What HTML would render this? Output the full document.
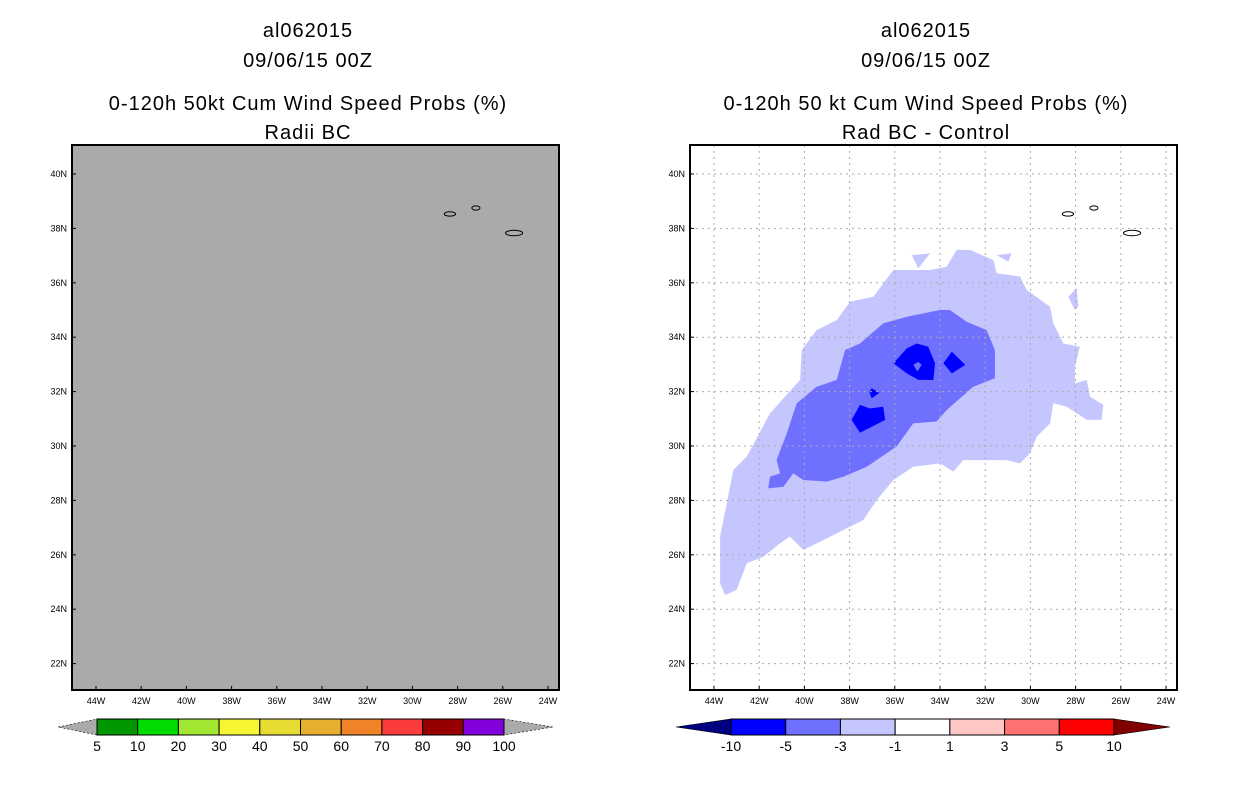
<!DOCTYPE html>
<html><head><meta charset="utf-8">
<style>
html,body{margin:0;padding:0;background:#fff;}
svg{display:block;font-family:"Liberation Sans",sans-serif;}
</style></head>
<body>
<svg id="c" width="1236" height="800" viewBox="0 0 1236 800" xmlns="http://www.w3.org/2000/svg"></svg>
<script>
const latTicks=[40,38,36,34,32,30,28,26,24,22];
const lonTicks=[44,42,40,38,36,34,32,30,28,26,24];
const leftBarLabels=["5","10","20","30","40","50","60","70","80","90","100"];
const leftBarColors=["#009600","#00dc00","#a0e632","#f5f532","#e6dc32","#e6af2d","#f08228","#fa3c3c","#960000","#8200dc"];
const rightBarLabels=["-10","-5","-3","-1","1","3","5","10"];
const rightBarColors=["#0000ff","#7070ff","#c6c6ff","#ffffff","#ffc6c6","#ff7070","#ff0000"];
const outerContour=[[-43.51,24.52],[-43.73,24.95],[-43.73,26.67],[-43.14,29.12],[-42.55,29.61],[-41.52,31.20],[-40.19,32.43],[-40.12,33.53],[-39.46,34.26],[-38.57,34.63],[-37.98,35.31],[-36.95,35.49],[-36.06,36.47],[-34.44,36.47],[-33.71,36.59],[-33.26,37.21],[-32.67,37.21],[-31.64,36.84],[-31.49,36.35],[-30.46,36.23],[-30.17,35.74],[-29.13,35.12],[-28.99,34.51],[-28.54,33.77],[-27.81,33.65],[-28.03,32.92],[-28.03,32.30],[-27.51,32.43],[-27.36,31.81],[-26.77,31.51],[-26.85,30.96],[-27.51,30.96],[-28.40,31.45],[-28.99,31.57],[-29.13,30.83],[-29.72,30.34],[-30.02,29.73],[-30.46,29.36],[-31.05,29.48],[-32.97,29.48],[-33.41,29.06],[-34.0,29.36],[-35.18,29.24],[-36.06,28.75],[-36.80,28.01],[-37.39,27.28],[-38.28,26.91],[-39.16,26.54],[-40.05,26.18],[-40.64,26.67],[-41.08,26.42],[-41.82,25.93],[-42.55,25.69],[-43.0,24.71]];
const outerIslands=[[[-35.25,37.02],[-34.44,37.08],[-34.96,36.53]],[[-31.49,37.02],[-30.83,37.08],[-30.98,36.78]],[[-28.32,35.49],[-27.95,35.80],[-27.88,35.12],[-28.03,35.0]]];
const midContour=[[-41.6,28.44],[-41.52,28.87],[-41.08,29.0],[-41.23,29.49],[-40.78,30.47],[-40.34,31.57],[-39.46,32.18],[-38.57,32.43],[-38.2,33.53],[-37.54,33.77],[-36.51,34.51],[-35.47,34.75],[-34.0,35.0],[-33.56,35.0],[-32.82,34.57],[-31.94,34.26],[-31.57,33.53],[-31.57,32.49],[-32.53,32.18],[-33.71,31.32],[-34.15,30.9],[-35.18,30.83],[-35.92,29.98],[-37.24,29.24],[-38.28,28.87],[-39.01,28.69],[-40.05,28.75],[-40.49,29.0],[-40.93,28.5]];
const darkBlobs=[[[-36.06,33.04],[-35.47,33.59],[-35.03,33.77],[-34.52,33.65],[-34.22,33.04],[-34.29,32.43],[-34.96,32.43],[-35.47,32.67]],[[-33.85,33.04],[-33.48,33.47],[-32.88,32.98],[-33.48,32.67]],[[-37.13,31.99],[-37.02,32.12],[-36.68,31.96],[-37.02,31.75]],[[-37.91,30.96],[-37.54,31.51],[-37.1,31.38],[-36.51,31.45],[-36.43,30.96],[-37.54,30.49]]];
const darkHole=[[-35.18,32.98],[-34.96,33.1],[-34.81,32.98],[-35.0,32.74]];
const islands=[[-28.34,38.53,0.25,0.08],[-27.19,38.75,0.18,0.08],[-25.5,37.83,0.38,0.1]];

const NS="http://www.w3.org/2000/svg";
const svg=document.getElementById('c');
function mk(tag,attrs,parent){const e=document.createElementNS(NS,tag);for(const k in attrs)e.setAttribute(k,attrs[k]);(parent||svg).appendChild(e);return e;}
function txt(x,y,s,size,anchor,parent){const t=mk('text',{x:x,y:y,'font-size':size,'text-anchor':anchor||'middle',fill:'#000'},parent);t.textContent=s;return t;}

function panel(x0,name){
  const g=mk('g',{});
  
  
  const X=lon=>x0+24+(lon+44)*22.6;
  const Y=lat=>174+(40-lat)*27.2;
  return {g,X,Y,x0};
}
function pts(arr,P){return arr.map(p=>P.X(p[0]).toFixed(1)+','+P.Y(p[1]).toFixed(1)).join(' ');}

function frame(P,gray){
  const r=mk('rect',{x:P.x0,y:145,width:487,height:545,fill:gray?'#aaaaaa':'#fff'},P.g);
  
  
}
function axes(P,grid){
  latTicks.forEach(l=>{
    const y=P.Y(l);
    if(grid){const gl=mk('line',{x1:P.x0,x2:P.x0+487,y1:y,y2:y,stroke:'#aaa','stroke-dasharray':'2,4'},P.g);
      }
    mk('line',{x1:P.x0,x2:P.x0+4,y1:y,y2:y,stroke:'#000'},P.g);
    const t=txt(P.x0-5,y+3,l+'N',9,'end',P.g);
    
  });
  lonTicks.forEach(l=>{
    const x=P.X(-l);
    if(grid){const gl=mk('line',{x1:x,x2:x,y1:145,y2:690,stroke:'#aaa','stroke-dasharray':'2,4'},P.g);
      }
    mk('line',{x1:x,x2:x,y1:686,y2:690,stroke:'#000'},P.g);
    const t=txt(x,704,l+'W',9,'middle',P.g);
    
  });
}
function drawIslands(P){
  islands.forEach(i=>{
    const e=mk('ellipse',{cx:P.X(i[0]),cy:P.Y(i[1]),rx:i[2]*22.6,ry:i[3]*27.2,fill:'none',stroke:'#000','stroke-width':1},P.g);
    
  });
}
function border(P){
  const b=mk('rect',{x:P.x0,y:145,width:487,height:545,fill:'none',stroke:'#000','stroke-width':2},P.g);
  
}
function titles(cx,lines,pfx){
  const ys=[37,67,110,139];
  lines.forEach((s,i)=>{const t=txt(cx,ys[i],s,20,'middle');
    t.setAttribute('letter-spacing','1');});
}
function colorbar(xs,xe,tl,tr,colors,labels,lc,rc,name){
  const g=mk('g',{});
  
  const w=(xe-xs)/colors.length;
  mk('polygon',{points:`${tl},727 ${xs},719 ${xs},735`,fill:lc,stroke:'#000','stroke-width':0.6,'stroke-dasharray':lc==='#aaaaaa'?'2,2':''},g);
  mk('polygon',{points:`${tr},727 ${xe},719 ${xe},735`,fill:rc,stroke:'#000','stroke-width':0.6,'stroke-dasharray':rc==='#aaaaaa'?'2,2':''},g);
  colors.forEach((c,i)=>{const r=mk('rect',{x:xs+i*w,y:719,width:w,height:16,fill:c,stroke:'#000','stroke-width':1},g);
    });
  labels.forEach((s,i)=>{const t=txt(xs+i*w,751,s,14,'middle',g);
    });
}

// Left panel
const L=panel(72,'left-map-panel');
frame(L,true);axes(L,false);drawIslands(L);border(L);
titles(308,["al062015","09/06/15 00Z","0-120h 50kt Cum Wind Speed Probs (%)","Radii BC"],'left');
colorbar(97,504,58,553,leftBarColors,leftBarLabels,'#aaaaaa','#aaaaaa','left-colorbar');

// Right panel
const R=panel(690,'right-map-panel');
frame(R,false);
const o=mk('polygon',{points:pts(outerContour,R),fill:'#c6c6ff'},R.g);

outerIslands.forEach(a=>{const p=mk('polygon',{points:pts(a,R),fill:'#c6c6ff'},R.g);
  });
const m=mk('polygon',{points:pts(midContour,R),fill:'#7070ff'},R.g);

darkBlobs.forEach(a=>{const p=mk('polygon',{points:pts(a,R),fill:'#0000ff'},R.g);
  });
const h=mk('polygon',{points:pts(darkHole,R),fill:'#7070ff'},R.g);

axes(R,true);drawIslands(R);border(R);
titles(926,["al062015","09/06/15 00Z","0-120h 50 kt Cum Wind Speed Probs (%)","Rad BC - Control"],'right');
colorbar(731,1114,676,1170,rightBarColors,rightBarLabels,'#000080','#800000','right-colorbar');
</script>
</body></html>
